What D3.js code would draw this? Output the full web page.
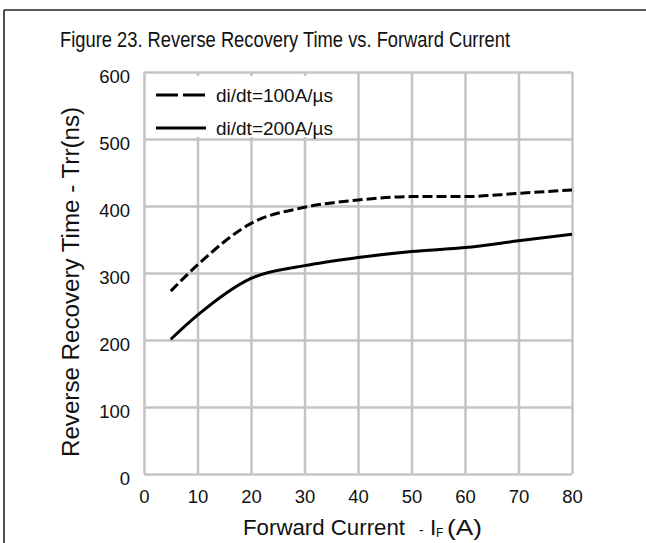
<!DOCTYPE html>
<html>
<head>
<meta charset="utf-8">
<script src="https://cdn.jsdelivr.net/npm/d3@7"></script>
<style>
  html, body { margin: 0; padding: 0; background: #fff; }
  svg { display: block; }
  text { font-family: "Liberation Sans", Arial, sans-serif; fill: #111; }
</style>
</head>
<body>
<svg id="chart" width="646" height="543"></svg>
<script>
// Forward current (A) sample points
const current = [5, 10, 20, 30, 40, 50, 60, 70, 80];
// Reverse recovery time (ns) for each di/dt
const trr100 = [273, 312, 374, 398, 409, 414, 414, 419, 424];
const trr200 = [201, 237, 292, 311, 323, 332, 338, 348, 358];
const seriesNames = ["di/dt=100A/\u00b5s", "di/dt=200A/\u00b5s"];
const xTicks = [0, 10, 20, 30, 40, 50, 60, 70, 80];
const yTicks = [0, 100, 200, 300, 400, 500, 600];

const svg = d3.select("#chart");
const W = 646, H = 543;
const FONT = '"Liberation Sans", Arial, sans-serif';

// outer frame (top and left rules)
svg.append("line").attr("x1", 4).attr("y1", 10).attr("x2", W).attr("y2", 10)
  .attr("stroke", "#222").attr("stroke-width", 1.6);
svg.append("line").attr("x1", 4).attr("y1", 10).attr("x2", 4).attr("y2", H)
  .attr("stroke", "#222").attr("stroke-width", 1.6);

const plot = { left: 144, right: 572, top: 72, bottom: 474 };
const x = d3.scaleLinear().domain([0, 80]).range([plot.left, plot.right]);
const y = d3.scaleLinear().domain([0, 600]).range([plot.bottom, plot.top]);

const gridColor = "#c4c4c4";
const g = svg.append("g");

// vertical grid
g.append("g").attr("transform", `translate(0,${plot.top})`)
  .call(d3.axisBottom(x).tickValues(xTicks).tickSize(plot.bottom - plot.top).tickFormat(""))
  .call(a => a.select(".domain").remove())
  .call(a => a.selectAll("line").attr("stroke", gridColor).attr("stroke-width", 2.5));
// horizontal grid
g.append("g").attr("transform", `translate(${plot.left},0)`)
  .call(d3.axisRight(y).tickValues(yTicks).tickSize(plot.right - plot.left).tickFormat(""))
  .call(a => a.select(".domain").remove())
  .call(a => a.selectAll("line").attr("stroke", gridColor).attr("stroke-width", 2.5));

// tick labels
const xAxis = svg.append("g").attr("transform", `translate(0,${plot.bottom})`)
  .call(d3.axisBottom(x).tickValues(xTicks).tickSize(0).tickPadding(16));
xAxis.select(".domain").remove();
xAxis.attr("font-size", null).attr("font-family", null);
xAxis.selectAll("text").attr("font-size", 18.5).attr("fill", "#111").style("font-family", FONT);

const yAxis = svg.append("g").attr("transform", `translate(${plot.left},0)`)
  .call(d3.axisLeft(y).tickValues(yTicks).tickSize(0).tickPadding(14));
yAxis.select(".domain").remove();
yAxis.attr("font-size", null).attr("font-family", null);
yAxis.selectAll("text").attr("font-size", 18.5).attr("fill", "#111").attr("dy", "0.55em")
  .style("font-family", FONT);

// curves
const line = d3.line().x((d, i) => x(current[i])).y(d => y(d)).curve(d3.curveMonotoneX);
svg.append("path").datum(trr100).attr("d", line)
  .attr("fill", "none").attr("stroke", "#000").attr("stroke-width", 3)
  .attr("stroke-dasharray", "10,4");
svg.append("path").datum(trr200).attr("d", line)
  .attr("fill", "none").attr("stroke", "#000").attr("stroke-width", 3);

// legend
const lg = svg.append("g");
lg.append("rect").attr("x", 153).attr("y", 76).attr("width", 194).attr("height", 61).attr("fill", "#fff");
const legendRows = [
  { name: seriesNames[0], dash: "22,5", yy: 95 },
  { name: seriesNames[1], dash: null, yy: 128 }
];
legendRows.forEach(r => {
  lg.append("line").attr("x1", 156).attr("x2", 206).attr("y1", r.yy).attr("y2", r.yy)
    .attr("stroke", "#000").attr("stroke-width", 3)
    .attr("stroke-dasharray", r.dash);
  lg.append("text").attr("x", 216).attr("y", r.yy + 6.5).attr("font-size", 18.5)
    .attr("textLength", 117).attr("lengthAdjust", "spacingAndGlyphs").text(r.name);
});

// titles
svg.append("text").attr("x", 285).attr("y", 47).attr("text-anchor", "middle")
  .attr("font-size", 21.5).attr("textLength", 450).attr("lengthAdjust", "spacingAndGlyphs")
  .text("Figure 23. Reverse Recovery Time vs. Forward Current");

svg.append("text").attr("transform", "translate(79,282) rotate(-90)").attr("text-anchor", "middle")
  .attr("font-size", 23.5).attr("textLength", 350).attr("lengthAdjust", "spacingAndGlyphs")
  .text("Reverse Recovery Time - Trr(ns)");

// x-axis title: "Forward Current  - I_F(A)"
const xtY = 535;
svg.append("text").attr("x", 243).attr("y", xtY).attr("font-size", 22.5)
  .attr("textLength", 162).attr("lengthAdjust", "spacingAndGlyphs").text("Forward Current");
svg.append("text").attr("x", 419).attr("y", xtY).attr("font-size", 14).text("-");
svg.append("text").attr("x", 430).attr("y", xtY).attr("font-size", 22.5).text("I");
svg.append("text").attr("x", 436).attr("y", xtY + 2).attr("font-size", 12).text("F");
svg.append("text").attr("x", 447).attr("y", xtY).attr("font-size", 22.5)
  .attr("textLength", 35).attr("lengthAdjust", "spacingAndGlyphs").text("(A)");
</script>
</body>
</html>
